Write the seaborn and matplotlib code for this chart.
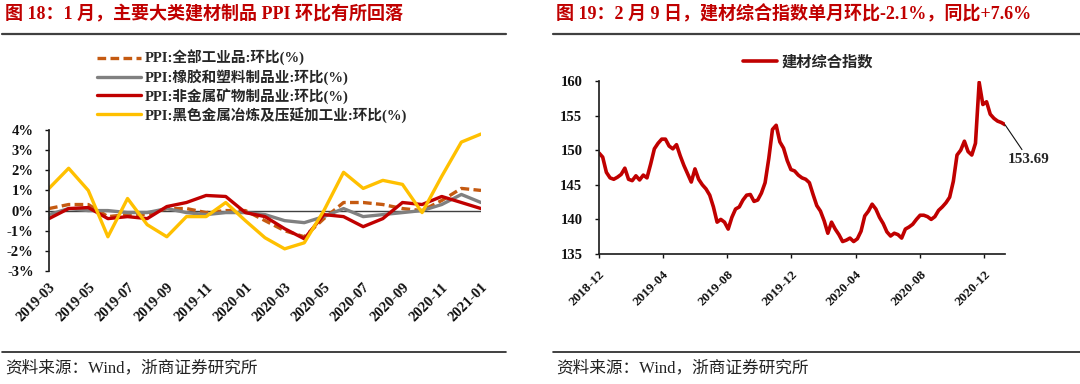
import pandas as pd
import numpy as np
import matplotlib.pyplot as plt
import seaborn as sns
from matplotlib.lines import Line2D
from matplotlib.ticker import FuncFormatter

# ---- left chart: monthly PPI m/m (%) ----
months = ['2019-03', '2019-04', '2019-05', '2019-06', '2019-07', '2019-08',
          '2019-09', '2019-10', '2019-11', '2019-12', '2020-01', '2020-02',
          '2020-03', '2020-04', '2020-05', '2020-06', '2020-07', '2020-08',
          '2020-09', '2020-10', '2020-11', '2020-12', '2021-01']
ppi_all = [0.1, 0.3, 0.3, -0.3, -0.2, -0.2, 0.1, 0.1, -0.1, 0.0, 0.0, -0.5,
           -1.0, -1.3, -0.4, 0.4, 0.4, 0.3, 0.1, 0.0, 0.5, 1.1, 1.0]
ppi_rubber = [-0.2, 0.1, 0.0, 0.0, -0.1, -0.1, 0.1, -0.1, -0.2, -0.1, -0.1, -0.2,
              -0.5, -0.6, -0.3, 0.1, -0.3, -0.2, -0.1, 0.0, 0.3, 0.8, 0.4]
ppi_nonmetal = [-0.4, 0.1, 0.15, -0.4, -0.3, -0.4, 0.2, 0.4, 0.75, 0.7, -0.1, -0.3,
                -0.9, -1.4, -0.2, -0.3, -0.8, -0.4, 0.4, 0.3, 0.7, 0.4, 0.1]
ppi_ferrous = [1.1, 2.1, 1.0, -1.3, 0.6, -0.7, -1.3, -0.3, -0.3, 0.4, -0.5, -1.35,
               -1.9, -1.6, 0.0, 1.9, 1.1, 1.5, 1.3, -0.1, 1.7, 3.4, 3.8]
left_labels = ['PPI:全部工业品:环比(%)', 'PPI:橡胶和塑料制品业:环比(%)',
               'PPI:非金属矿物制品业:环比(%)', 'PPI:黑色金属冶炼及压延加工业:环比(%)']

# ---- right chart: weekly building materials index ----
index_start = '2018-12-01'
index_values = [149.6, 149.0, 146.8, 146.0, 145.8, 146.1, 146.5, 147.4, 145.8, 145.6,
                146.3, 145.7, 146.4, 146.0, 148.0, 150.2, 151.0, 151.6, 151.6, 150.6,
                150.2, 150.8, 149.2, 147.8, 146.6, 145.4, 147.3, 145.8, 145.0, 144.4,
                143.5, 141.8, 139.6, 140.0, 139.6, 138.6, 140.3, 141.5, 141.8, 142.8,
                143.5, 143.6, 142.6, 142.8, 143.8, 145.3, 148.8, 153.0, 153.6, 151.2,
                150.3, 148.5, 147.2, 147.0, 146.4, 146.0, 145.8, 145.3, 143.6, 142.0,
                141.2, 139.8, 138.0, 139.6, 138.6, 137.8, 136.8, 137.0, 137.3, 136.8,
                137.2, 138.3, 140.5, 141.2, 142.2, 141.5, 140.3, 139.4, 138.2, 137.6,
                138.0, 137.8, 137.3, 138.6, 138.9, 139.3, 140.0, 140.6, 140.6, 140.4,
                140.0, 140.4, 141.3, 141.8, 142.4, 143.2, 145.5, 149.3, 150.0, 151.3,
                149.8, 149.3, 151.0, 159.8, 156.6, 157.0, 155.2, 154.6, 154.2, 154.0,
                153.69]
right_label = '建材综合指数'

title_left = '图 18：1 月，主要大类建材制品 PPI 环比有所回落'
title_right = '图 19：2 月 9 日，建材综合指数单月环比-2.1%，同比+7.6%'
source_text = '资料来源：Wind，浙商证券研究所'

sns.set_theme(style='ticks')
fonts = ['Liberation Serif', 'Noto Sans CJK SC']
plt.rcParams['font.family'] = fonts
plt.rcParams['axes.unicode_minus'] = False

red = '#C00000'
W, H = 1080, 384
fig = plt.figure(figsize=(10.8, 3.84), dpi=100)
fig.patch.set_facecolor('white')

def fx(px):
    return px / W

def fy(py):
    return 1 - py / H

# titles, rules and source lines
for x0, x1, title in [(2, 506, title_left), (553, 1080, title_right)]:
    fig.text(fx(x0 + 3), fy(14), title, color=red, fontsize=13, fontweight='bold',
             va='center', ha='left', family=fonts)
    fig.add_artist(Line2D([fx(x0), fx(x1)], [fy(34), fy(34)], color='#404040', lw=1.6,
                          transform=fig.transFigure))
    fig.add_artist(Line2D([fx(x0), fx(x1)], [fy(352), fy(352)], color='#202020', lw=1.2,
                          transform=fig.transFigure))
    fig.text(fx(x0 + 3), fy(368), source_text, color='#222222', fontsize=12,
             va='center', ha='left', family=fonts)

# ---- left panel ----
ax1 = fig.add_axes([fx(49), fy(271), fx(481 - 49), (271 - 130) / H])
x = np.arange(len(months))
series = [(ppi_all, '#C55A11', (0, (2.6, 1.3))),
          (ppi_rubber, '#808080', '-'),
          (ppi_nonmetal, '#C00000', '-'),
          (ppi_ferrous, '#FFC000', '-')]
for (vals, col, ls), lab in zip(series, left_labels):
    sns.lineplot(x=x, y=vals, ax=ax1, color=col, lw=2.4, linestyle=ls, label=lab)

ax1.axhline(0, color='#404040', lw=1.0, zorder=1)
ax1.set_xlim(0, len(months) - 1)
ax1.set_ylim(-3, 4)
ax1.set_yticks(range(-3, 5))
ax1.yaxis.set_major_formatter(FuncFormatter(lambda v, p: f'{v:.0f}%'))
ax1.set_xticks(x[::2])
ax1.set_xticklabels(months[::2])
for s in ['top', 'right', 'bottom']:
    ax1.spines[s].set_visible(False)
ax1.spines['left'].set_color('#222222')
ax1.tick_params(axis='y', length=3, width=1, pad=8, labelsize=10.5, colors='#111111')
ax1.tick_params(axis='x', length=0, pad=7, labelsize=10.5, colors='#111111')
ax1.set_xlabel('')
ax1.set_ylabel('')
ax1.legend(loc='upper left', bbox_to_anchor=(fx(97), fy(50)), bbox_transform=fig.transFigure,
           frameon=False, borderpad=0, borderaxespad=0, handlelength=3.0,
           handletextpad=0.3, labelspacing=0.2,
           prop=dict(family=fonts, weight='bold', size=10.5))
ax1.set_facecolor('none')

# ---- right panel ----
dates = pd.date_range(index_start, periods=len(index_values), freq='7D')
ax2 = fig.add_axes([fx(599), fy(254), fx(1005 - 599), (254 - 81) / H])
sns.lineplot(x=dates, y=index_values, ax=ax2, color=red, lw=2.6, label=right_label)
ax2.set_xlim(dates[0], dates[-1])
ax2.set_ylim(135, 160)
ax2.set_yticks(range(135, 161, 5))
ticks = pd.date_range('2018-12-01', '2020-12-01', freq='4MS')
ax2.set_xticks(ticks)
ax2.set_xticklabels([t.strftime('%Y-%m') for t in ticks])
for s in ['top', 'right']:
    ax2.spines[s].set_visible(False)
for s in ['left', 'bottom']:
    ax2.spines[s].set_color('#222222')
ax2.tick_params(axis='y', length=3, width=1, pad=9, labelsize=10.5, colors='#111111')
ax2.tick_params(axis='x', length=3, width=1, pad=7, labelsize=9.5, colors='#111111')
ax2.set_xlabel('')
ax2.set_ylabel('')
ax2.annotate(f'{index_values[-1]:.2f}', xy=(dates[-1], index_values[-1]),
             xytext=(17, -25), textcoords='offset points', ha='center', va='center',
             fontsize=11, fontweight='bold',
             arrowprops=dict(arrowstyle='-', color='#111111', lw=0.8, shrinkA=0, shrinkB=0))
ax2.legend(loc='center left', bbox_to_anchor=(fx(743), fy(62)), bbox_transform=fig.transFigure,
           frameon=False, borderpad=0, borderaxespad=0, handlelength=2.2,
           handletextpad=0.3, prop=dict(family=fonts, weight='bold', size=11))
ax2.set_facecolor('none')

for ax in (ax1, ax2):
    for lbl in ax.get_xticklabels():
        lbl.set_rotation(45)
        lbl.set_ha('right')
        lbl.set_rotation_mode('anchor')
        lbl.set_fontweight('bold')
    for lbl in ax.get_yticklabels():
        lbl.set_fontweight('bold')

fig.savefig('out.png', dpi=100, facecolor='white')
